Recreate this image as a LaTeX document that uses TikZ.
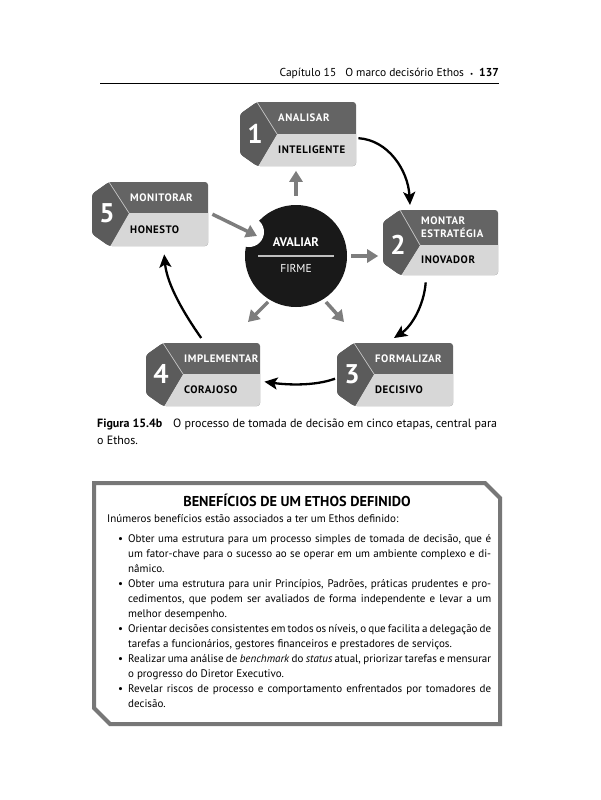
\documentclass[tikz,border=0pt]{standalone}
\usepackage{fontspec}
\setmainfont{PT Sans}
\newfontfamily\rotulofont[LetterSpace=5]{PT Sans}
\usetikzlibrary{arrows.meta, positioning}

\definecolor{faixaescura}{HTML}{646464}
\definecolor{faixanum}{HTML}{5B5B5B}
\definecolor{faixaclara}{HTML}{D7D7D7}
\definecolor{setacinza}{HTML}{7D7D7D}
\definecolor{moldura}{HTML}{777777}

% etapa: nome, x, y, largura, altura, faixa escura, numero, texto de cima, texto de baixo
\newcommand{\etapa}[9]{%
\begin{scope}[shift={(#2,#3)}]
\begin{scope}
\clip[rounded corners=3] (17,0) -- (#4,0) -- (#4,#5) -- (17,#5) -- (0,#5-12) -- (0,12) -- cycle;
\fill[faixaescura] (-2,-2) rectangle (#4+2,#5+2);
\fill[faixaclara] (37,#6) -- (#4+2,#6) -- (#4+2,#5+2) -- (17,#5+2) -- cycle;
\fill[faixanum] (17,-2) -- (37,#6) -- (17,#5+2) -- (-2,#5+2) -- (-2,-2) -- cycle;
\end{scope}
\draw[white!65!faixaescura, line width=0.7] (17,0) -- (37,#6);
\node[inner sep=0, minimum width=#4, minimum height=#5, anchor=north west] (#1) at (0,0) {};
\node[numero] (#1n) at (15,#6) {#7};
\node[rotulo, text=white, anchor=west] (#1a) at (38,#6/2) {#8};
\node[rotulo, anchor=west] (#1b) at (38,{(#6+#5)/2}) {#9};
\end{scope}}

\begin{document}
\begin{tikzpicture}[x=1pt, y=-1pt,
  numero/.style={text=white, inner sep=0, font=\fontsize{27}{27}\selectfont\bfseries},
  rotulo/.style={inner sep=0, align=left, font=\rotulofont\fontsize{10.8}{13}\selectfont\bfseries},
  corpo/.style={inner sep=0, font=\fontsize{11}{15}\selectfont}]
\tikzset{setacinza/.style={draw=setacinza, line width=3.5, -{Triangle[width=13pt,length=11pt]}},
  setaciclo/.style={draw=black, line width=2.3, -{Stealth[width=12pt,length=13pt,inset=3pt]}}}

\fill[white] (0,0) rectangle (600,800);
\useasboundingbox (0,0) rectangle (600,800);

% cabecalho
\node[corpo, anchor=base east, font=\fontsize{11.5}{12}\selectfont] (cab) at (499,77)
  {Capítulo 15\hspace{9pt}O marco decisório Ethos\hspace{6pt}\raisebox{1pt}{\scriptsize•}\hspace{6pt}\textbf{137}};
\draw[line width=0.8] (100,83) -- (499,83);

% etapas
\etapa{s1}{240}{102}{116}{64}{32}{1}{ANALISAR}{INTELIGENTE}
\etapa{s2}{383}{210}{115}{65}{35}{2}{MONTAR\\ESTRATÉGIA}{INOVADOR}
\etapa{s3}{337}{343}{116}{63}{31}{3}{FORMALIZAR}{DECISIVO}
\etapa{s4}{146}{343}{114}{63}{31}{4}{IMPLEMENTAR}{CORAJOSO}
\etapa{s5}{92}{182}{116}{64}{31}{5}{MONITORAR}{HONESTO}

% centro
\node[circle, fill=black!90, minimum size=102, inner sep=0] (aval) at (296,256) {};
\fill[white] (249,232) circle (15);
\node[text=white, font=\fontsize{12.5}{12.5}\selectfont\bfseries] (avt) at (296,242) {AVALIAR};
\draw[black!25, line width=1.2] ([xshift=-38pt]aval.center) -- ([xshift=38pt]aval.center);
\node[text=white, font=\fontsize{11.5}{11.5}\selectfont] (firme) at (296,268) {FIRME};

\draw[setacinza] ([yshift=9pt]aval.north) -- ([yshift=34pt]aval.north);
\draw[setacinza] ([xshift=4pt]aval.east) -- ([xshift=31pt]aval.east);
\draw[setacinza] ([xshift=-28pt,yshift=-46pt]aval.center) -- ([xshift=-48pt,yshift=-66pt]aval.center);
\draw[setacinza] ([xshift=30pt,yshift=-46pt]aval.center) -- ([xshift=48pt,yshift=-66pt]aval.center);
\draw[setacinza] ([xshift=4pt]s5.east) -- ([xshift=-39pt,yshift=20pt]aval.center);

% ciclo
\draw[setaciclo] ([shift={(2pt,-4pt)}]s1.east) .. controls (388,140) and (408,170) .. ([shift={(27pt,5pt)}]s2.north west);
\draw[setaciclo] ([shift={(-15pt,-7pt)}]s2.south) .. controls (424,305) and (412,326) .. ([shift={(57pt,5pt)}]s3.north west);
\draw[setaciclo] ([shift={(-2pt,-4pt)}]s3.west) .. controls (315,386) and (288,385) .. ([shift={(4pt,-7pt)}]s4.east);
\draw[setaciclo] ([shift={(-2pt,5pt)}]s4.north) .. controls (185,315) and (167,285) .. ([shift={(14pt,-8pt)}]s5.south);

% legenda
\node[corpo, anchor=base west, font=\fontsize{12}{17}\selectfont\bfseries] (fig) at (97,427) {Figura 15.4b};
\node[corpo, anchor=base west, font=\fontsize{12}{17}\selectfont] (leg) at (173,427) {O processo de tomada de decisão em cinco etapas, central para};
\node[corpo, anchor=base west, font=\fontsize{12}{17}\selectfont] (leg2) at (97,444) {o Ethos.};

% quadro
\draw[moldura, line width=4] (94,483) -- (485,483) -- (500,498) -- (500,724) -- (110,724) -- (94,708) -- cycle;
\node[font=\fontsize{14.3}{14.3}\selectfont\bfseries, anchor=base] (titulo) at (297,506) {BENEFÍCIOS DE UM ETHOS DEFINIDO};
\newcommand{\marcador}{\par\hangindent=21pt\hangafter=1\noindent\hspace*{11pt}\makebox[10pt][l]{•}}
\node[corpo, anchor=base west, text width=384, align=justify] (texto) at (107,522) {%
\parskip=0pt
Inúmeros benefícios estão associados a ter um Ethos definido:\par\vspace{5pt}
\marcador Obter uma estrutura para um processo simples de tomada de decisão, que é\linebreak
um fator-chave para o sucesso ao se operar em um ambiente complexo e di-\linebreak
nâmico.
\marcador Obter uma estrutura para unir Princípios, Padrões, práticas prudentes e pro-\linebreak
cedimentos, que podem ser avaliados de forma independente e levar a um\linebreak
melhor desempenho.
\marcador Orientar decisões consistentes em todos os níveis, o que facilita a delegação de\linebreak
tarefas a funcionários, gestores financeiros e prestadores de serviços.
\marcador Realizar uma análise de \textit{benchmark} do \textit{status} atual, priorizar tarefas e mensurar\linebreak
o progresso do Diretor Executivo.
\marcador Revelar riscos de processo e comportamento enfrentados por tomadores de\linebreak
decisão.\par};
\end{tikzpicture}
\end{document}
